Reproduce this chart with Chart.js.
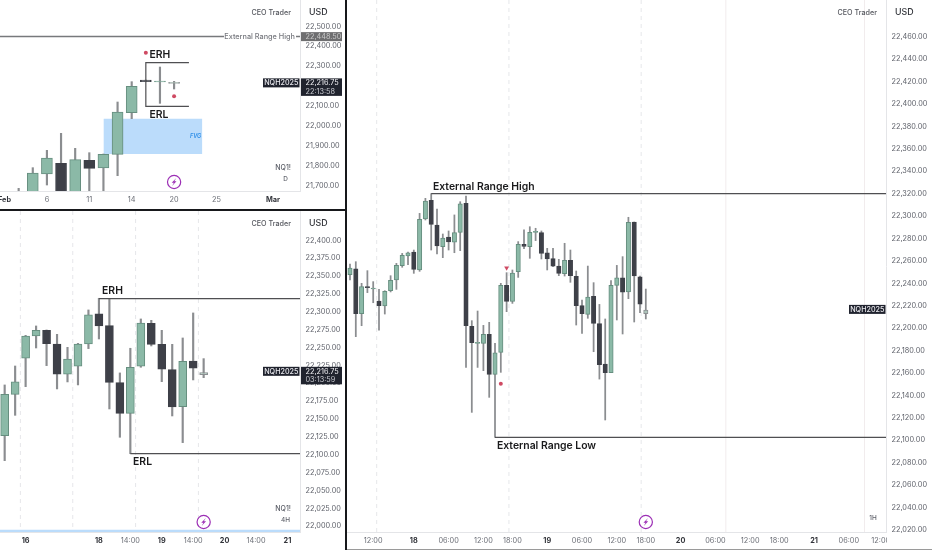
<!DOCTYPE html>
<html>
<head>
<meta charset="utf-8">
<title>NQH2025</title>
<script src="https://cdn.jsdelivr.net/npm/chart.js@4/dist/chart.umd.min.js"></script>
<style>
  html, body { margin: 0; padding: 0; background: #fff; overflow: hidden; }
  canvas { position: absolute; }
</style>
</head>
<body>
<canvas id="daily"></canvas>
<canvas id="h4"></canvas>
<canvas id="h1"></canvas>
<script>
// daily panel
const dailyOpen  = [21620, 21640, 21760.1, 21813.6, 21650, 21828.6, 21790.2, 21858.7, 22067.4, 22231.1, 22221.1, 22214.4];
const dailyHigh  = [21688.3, 21791.9, 21878.7, 21963.9, 21888.7, 21867, 21860.4, 22120.9, 22222.8, 22231.1, 22296.2, 22224.4];
const dailyLow   = [21560, 21600, 21705, 21600, 21600, 21600, 21600, 21751.8, 22037.4, 22222.8, 22114.2, 22186];
const dailyClose = [21660, 21765.2, 21840.3, 21650, 21832, 21788.5, 21858.7, 22070.8, 22199.4, 22222.8, 22224.4, 22216.75];
const dailyTickPos = [-1, 2, 5, 8, 11, 14, 18];
const dailyTickLabels = ['Feb', '6', '11', '14', '20', '25', 'Mar'];
const dailyPriceTicks = [22500, 22400, 22300, 22200, 22100, 22000, 21900, 21800, 21700];

// 4h panel
const h4Open  = [22126.8, 22184.6, 22235, 22266.2, 22274.1, 22255, 22212.6, 22223.8, 22255, 22297, 22280.7, 22200.9, 22158, 22223.8, 22283.9, 22254.5, 22219.1, 22167.4, 22231.2, 22212.1];
const h4High  = [22197.7, 22224.2, 22267.1, 22280.2, 22274.6, 22268.5, 22250.3, 22255.9, 22302.6, 22318.9, 22317.5, 22214.5, 22249, 22290, 22288.1, 22274.1, 22254.5, 22263.4, 22298.4, 22234.5];
const h4Low   = [22091.8, 22155.2, 22195.3, 22249.4, 22224.7, 22192.1, 22201.9, 22197.7, 22248.5, 22262, 22164.1, 22124.5, 22101.6, 22222.4, 22252.2, 22202.3, 22154.3, 22117, 22204.7, 22207.9];
const h4Close = [22184.6, 22201.9, 22266.2, 22274.1, 22255.5, 22212.6, 22234, 22255, 22295.6, 22280.2, 22201.4, 22158, 22222.4, 22284.4, 22254.5, 22219.6, 22166.9, 22230.8, 22221, 22214.9];
const h4TickPos = [2, 9, 12, 15, 18, 21, 24, 27];
const h4TickLabels = ['16', '18', '14:00', '19', '14:00', '20', '14:00', '21'];
const h4PriceTicks = [22400, 22375, 22350, 22325, 22300, 22275, 22250, 22225, 22200, 22175, 22150, 22125, 22100, 22075, 22050, 22025, 22000];

// 1h panel
const h1Open  = [22247.7, 22253, 22212.9, 22237, 22234.9, 22224.2, 22219.8, 22233.4, 22243, 22255.7, 22264.4, 22267.9, 22251.9, 22297.4, 22314, 22292, 22272.7, 22281.3, 22276.6, 22285.5, 22311.4, 22201.6, 22186.5, 22186.5, 22194.5, 22158.8, 22178.4, 22238.2, 22223.9, 22250.4, 22274.8, 22272.7, 22285.5, 22285.2, 22267.3, 22262, 22255.4, 22248.6, 22260.5, 22246.2, 22220.1, 22212.3, 22228.4, 22204, 22168, 22160.3, 22238.2, 22245, 22232.3, 22294.7, 22245.9, 22212.9];
const h1High  = [22257.2, 22259.3, 22240, 22251.3, 22241.5, 22234.6, 22233.4, 22246.8, 22257.8, 22266.7, 22267.9, 22269.7, 22302.4, 22315.8, 22320, 22306.3, 22284, 22286.7, 22301, 22312.8, 22317.9, 22206.7, 22215.3, 22202.5, 22205.2, 22186.5, 22240, 22249.5, 22251.9, 22277.2, 22287.6, 22290.5, 22289.1, 22286.7, 22271.2, 22271.2, 22261.4, 22275.7, 22269.7, 22251, 22225.1, 22255.4, 22240.6, 22221.2, 22208.2, 22242.4, 22256, 22263.8, 22298.9, 22294.7, 22246.5, 22234.9];
const h1Low   = [22243, 22192.4, 22202.2, 22231.7, 22222.7, 22198.3, 22212.6, 22232.3, 22234.6, 22254.3, 22256.6, 22248.9, 22250.7, 22296.5, 22269.7, 22266.2, 22262.9, 22269.7, 22267.3, 22269.1, 22165, 22124.9, 22165, 22162.1, 22138.3, 22102.6, 22160.6, 22214.7, 22222.1, 22245.3, 22270.9, 22262.3, 22278.1, 22261.7, 22251.9, 22254.9, 22246.8, 22246.5, 22240.9, 22202.8, 22195.4, 22208.8, 22179, 22154.6, 22118.1, 22160.3, 22207.3, 22194.8, 22226.3, 22205.5, 22213.8, 22208.2];
const h1Close = [22253.7, 22212.9, 22237, 22236.1, 22235.5, 22220.1, 22232.8, 22242.7, 22256, 22265, 22267.3, 22252.5, 22297.1, 22313.4, 22292.6, 22273.3, 22280.4, 22276.9, 22285.2, 22310.8, 22202.2, 22187, 22187, 22194.5, 22158.8, 22178.1, 22238.2, 22223.9, 22249.2, 22274.8, 22273, 22285.5, 22285.8, 22266.7, 22261.7, 22255.4, 22248.9, 22260.5, 22246.8, 22220.1, 22212.9, 22227.8, 22204.3, 22167.4, 22160.3, 22238.2, 22245, 22232, 22294.4, 22246.5, 22221.5, 22216.2];
const h1TickPos = [4, 11, 17, 23, 28, 34, 40, 46, 51, 57, 63, 69, 74, 80, 86, 91.5];
const h1TickLabels = ['12:00', '18', '06:00', '12:00', '18:00', '19', '06:00', '12:00', '18:00', '20', '06:00', '12:00', '18:00', '21', '06:00', '12:00'];
const h1PriceTicks = [22460, 22440, 22420, 22400, 22380, 22360, 22340, 22320, 22300, 22280, 22260, 22240, 22220, 22200, 22180, 22160, 22140, 22120, 22100, 22080, 22060, 22040, 22020];

const lastPrice = 22216.75;
const externalHighDaily = 22448.5;

const UP = '#8bb9a7', UP_EDGE = '#668e7f', DOWN = '#3e4048', WICK = '#8b8d90';
const LIVE = '#adc5ba', LIVE_EDGE = '#8b8f92';
const LINE = '#4f4f52', DARK = '#20232e', RED = '#cf4a63';
const FONT = 'Inter, "Liberation Sans", sans-serif';

const priceText = v => v.toLocaleString('en-US', { minimumFractionDigits: 2, maximumFractionDigits: 2 });

// the scales must not push the plot area in for half a label
const noPadding = s => { s.paddingLeft = s.paddingRight = s.paddingTop = s.paddingBottom = 0; };

// session lines, price tags and captions go on top of what the datasets draw
const overlay = {
  id: 'overlay',
  beforeDatasetsDraw(chart) {
    const p = chart.options.plugins.overlay, ctx = chart.ctx, area = chart.chartArea;
    const x = chart.scales.x;
    ctx.save();
    ctx.lineWidth = 1;
    (p.dashed || []).forEach(v => {
      ctx.strokeStyle = '#e6e7ea';
      ctx.setLineDash([4, 4]);
      ctx.beginPath(); ctx.moveTo(x.getPixelForValue(v), area.top); ctx.lineTo(x.getPixelForValue(v), area.bottom); ctx.stroke();
    });
    ctx.setLineDash([]);
    (p.solid || []).forEach(v => {
      ctx.strokeStyle = '#f1eced';
      ctx.beginPath(); ctx.moveTo(x.getPixelForValue(v), area.top); ctx.lineTo(x.getPixelForValue(v), area.bottom); ctx.stroke();
    });
    ctx.restore();
  },
  afterDraw(chart) {
    const p = chart.options.plugins.overlay, ctx = chart.ctx, area = chart.chartArea;
    const x = chart.scales.x, y = chart.scales.y;
    const W = chart.width, H = chart.height;
    ctx.save();
    // the price column does not run below the time axis
    ctx.fillStyle = '#fff';
    ctx.fillRect(area.right + 1, area.bottom + 1, W, H);

    ctx.textBaseline = 'middle';
    const label = (t, px, py, font, color, align) => {
      ctx.font = font; ctx.fillStyle = color; ctx.textAlign = align || 'left';
      ctx.fillText(t, px, py);
    };

    // line label with white gap, daily panel only
    if (p.rangeLabel) {
      const py = y.getPixelForValue(p.rangeLabel.price);
      ctx.fillStyle = '#fff';
      ctx.fillRect(area.right - 76, py - 5, 72, 10);
      label(p.rangeLabel.text, area.right - 5, py + 0.3, '500 7.3px ' + FONT, '#77797f', 'right');
      ctx.fillStyle = '#6e6e70';
      ctx.fillRect(area.right + 1, py - 4.5, 41, 9);
      label(priceText(p.rangeLabel.price), area.right + 5.5, py + 0.3, '7.3px ' + FONT, '#c9c9c9');
    }

    (p.notes || []).forEach(n => {
      label(n.text, x.getPixelForValue(n.x), y.getPixelForValue(n.y), n.font || ('600 10.4px ' + FONT), n.color || '#1a1a1c');
    });

    // current price tags
    const py = y.getPixelForValue(lastPrice);
    ctx.fillStyle = DARK;
    ctx.fillRect(area.right - 37, py - 4.5, 36.5, 9);
    label('NQH2025', area.right - 18.7, py + 0.3, '500 7.2px ' + FONT, '#e9e9ee', 'center');
    if (p.countdown) {
      ctx.fillStyle = DARK;
      ctx.fillRect(area.right + 1, py - 4.5, 41, 17.5);
      label(priceText(lastPrice), area.right + 5.5, py + 0.2, '7.3px ' + FONT, '#f2f2f5');
      label(p.countdown, area.right + 5.5, py + 8.6, '7.3px ' + FONT, '#c8cad0');
    }

    // captions
    label('CEO Trader', area.right - 9, p.topY, '500 7.2px ' + FONT, '#55575e', 'right');
    label('USD', area.right + 9, p.topY - 1, '500 8.8px ' + FONT, '#33353b');
    if (p.symbol) label(p.symbol, area.right - 9, p.symbolY, '500 7px ' + FONT, '#5c5f68', 'right');
    label(p.interval, p.intervalX == null ? area.right - 14.5 : p.intervalX, p.intervalY, '500 6.4px ' + FONT, '#5c5f68', 'center');

    // purple bolt badge over the last bar
    const bx = x.getPixelForValue(p.boltX), by = area.bottom - p.boltUp;
    ctx.strokeStyle = '#9c2fb5'; ctx.lineWidth = 1.2;
    ctx.beginPath(); ctx.arc(bx, by, 6.6, 0, Math.PI * 2); ctx.fillStyle = '#fff'; ctx.fill(); ctx.stroke();
    ctx.fillStyle = '#9c2fb5';
    ctx.beginPath();
    ctx.moveTo(bx + 2.2, by - 4); ctx.lineTo(bx - 2.4, by + 0.8); ctx.lineTo(bx - 0.2, by + 0.8);
    ctx.lineTo(bx - 2, by + 4); ctx.lineTo(bx + 2.4, by - 0.8); ctx.lineTo(bx + 0.2, by - 0.8);
    ctx.closePath(); ctx.fill();
    ctx.restore();
  }
};

function candles(open, high, low, close, body, wick) {
  const last = open.length - 1;
  const isUp = i => close[i] >= open[i];
  return [
    {
      type: 'bar', order: 3, grouped: false, barThickness: wick, borderWidth: 0,
      backgroundColor: WICK,
      data: high.map((h, i) => ({ x: i, y: [low[i], h] }))
    },
    {
      type: 'bar', order: 2, grouped: false, barThickness: body, borderWidth: 1, borderSkipped: false, minBarLength: 1,
      backgroundColor: open.map((o, i) => i === last ? LIVE : (isUp(i) ? UP : DOWN)),
      borderColor: open.map((o, i) => i === last ? LIVE_EDGE : (isUp(i) ? UP_EDGE : DOWN)),
      data: open.map((o, i) => ({ x: i, y: [o, close[i]] }))
    }
  ];
}

const rangeLine = (pts, color, width) => ({
  type: 'line', order: 1, data: pts, borderColor: color || LINE, borderWidth: width || 1.2,
  pointRadius: 0, fill: false, tension: 0
});

const marker = (pts, style, rotation, size) => ({
  type: 'line', order: 0, data: pts, showLine: false, pointStyle: style, rotation: rotation || 0,
  pointRadius: size || 2, pointBackgroundColor: RED, pointBorderWidth: 0
});

function panel(id, box, cfg) {
  const el = document.getElementById(id);
  el.style.left = box.left + 'px';
  el.style.top = box.top + 'px';
  el.style.width = box.width + 'px';
  el.style.height = box.height + 'px';
  el.width = box.width;
  el.height = box.height;
  return new Chart(el, {
    type: 'bar',
    data: { datasets: cfg.datasets },
    plugins: [overlay],
    options: {
      responsive: false,
      animation: false,
      events: [],
      devicePixelRatio: 1,
      layout: { autoPadding: false, padding: 0 },
      plugins: { legend: { display: false }, tooltip: { enabled: false }, overlay: cfg.overlay },
      scales: {
        x: {
          type: 'linear',
          offset: false,
          min: cfg.xMin,
          max: cfg.xMax,
          grid: { display: false, drawTicks: false, tickLength: 0, offset: false },
          border: { display: true, color: '#e4e5e8', width: 1 },
          afterBuildTicks: s => { s.ticks = cfg.tickPos.map(v => ({ value: v })); },
          afterFit: s => { s.height = box.axisH; noPadding(s); },
          ticks: {
            autoSkip: false, maxRotation: 0, padding: 4, color: i => cfg.boldLabels.includes(cfg.tickLabels[i.index]) ? '#33353b' : '#6a6d75',
            font: c => ({ family: FONT, size: 7.3, weight: cfg.boldLabels.includes(cfg.tickLabels[c.index]) ? '700' : '400' }),
            callback: (v, i) => cfg.tickLabels[i]
          }
        },
        y: {
          type: 'linear',
          position: 'right',
          min: cfg.yMin,
          max: cfg.yMax,
          grid: { display: false, drawTicks: false, tickLength: 0 },
          border: { display: true, color: '#e4e5e8', width: 1 },
          afterBuildTicks: s => { s.ticks = cfg.priceTicks.map(v => ({ value: v })); },
          afterFit: s => { s.width = box.axisW; noPadding(s); },
          ticks: {
            autoSkip: false, padding: 5.5, color: '#5c5f68',
            font: { family: FONT, size: 7.3 },
            callback: v => priceText(v)
          }
        }
      }
    }
  });
}

panel('daily', { left: 0, top: 0, width: 345, height: 209, axisH: 18, axisW: 45 }, {
  xMin: -1.32, xMax: 19.91, yMin: 21675, yMax: 22632,
  tickPos: dailyTickPos, tickLabels: dailyTickLabels, boldLabels: ['Feb', 'Mar'], priceTicks: dailyPriceTicks,
  datasets: [
    { type: 'line', order: 5, data: [{ x: 6, y: 22037.4 }, { x: 13, y: 22037.4 }], borderWidth: 0, pointRadius: 0,
      fill: { value: 21860.4 }, backgroundColor: '#bbdcfb' },
    ...candles(dailyOpen, dailyHigh, dailyLow, dailyClose, 11, 1.5),
    rangeLine([{ x: -1.32, y: externalHighDaily }, { x: 19.91, y: externalHighDaily }], '#77797c', 1.5),
    rangeLine([{ x: 12.05, y: 22318 }, { x: 9, y: 22318 }, { x: 9, y: 22099.2 }, { x: 12.05, y: 22099.2 }]),
    marker([{ x: 9, y: 22368 }, { x: 11, y: 22149.3 }], 'circle')
  ],
  overlay: {
    topY: 13, symbol: 'NQ1!', symbolY: 168, interval: 'D', intervalY: 179, boltX: 11, boltUp: 9, countdown: '22:13:58',
    rangeLabel: { text: 'External Range High', price: externalHighDaily },
    notes: [
      { text: 'ERH', x: 9.26, y: 22356.4 },
      { text: 'ERL', x: 9.26, y: 22055.9 },
      { text: 'FVG', x: 12.12, y: 21950.7, font: 'italic 600 5.6px ' + FONT, color: '#2f8fe8' }
    ]
  }
});

panel('h4', { left: 0, top: 211, width: 345, height: 339, axisH: 18, axisW: 45 }, {
  xMin: -0.446, xMax: 28.2, yMin: 21992, yMax: 22441,
  tickPos: h4TickPos, tickLabels: h4TickLabels, boldLabels: ['16', '18', '19', '20', '21'], priceTicks: h4PriceTicks,
  datasets: [
    { type: 'line', order: 5, data: [{ x: -0.446, y: 21995.2 }, { x: 28.2, y: 21995.2 }], borderWidth: 0, pointRadius: 0,
      fill: { value: 21980 }, backgroundColor: '#bbdcfb' },
    ...candles(h4Open, h4High, h4Low, h4Close, 8, 1.5),
    rangeLine([{ x: 9, y: 22318.4 }, { x: 28.2, y: 22318.4 }]),
    rangeLine([{ x: 12, y: 22101.6 }, { x: 28.2, y: 22101.6 }])
  ],
  overlay: {
    topY: 13, symbol: 'NQ1!', symbolY: 298, interval: '4H', intervalY: 309, boltX: 19, boltUp: 10, countdown: '03:13:59',
    dashed: [1.5, 6.5, 12.5, 18.5],
    notes: [
      { text: 'ERH', x: 9.3, y: 22329.1 },
      { text: 'ERL', x: 12.26, y: 22089.9 }
    ]
  }
});

panel('h1', { left: 347, top: 0, width: 585, height: 550, axisH: 18, axisW: 46 }, {
  xMin: -0.517, xMax: 92.41, yMin: 22018.2, yMax: 22492.7,
  tickPos: h1TickPos, tickLabels: h1TickLabels, boldLabels: ['18', '19', '20', '21'], priceTicks: h1PriceTicks,
  datasets: [
    ...candles(h1Open, h1High, h1Low, h1Close, 4.4, 1.1),
    rangeLine([{ x: 14, y: 22320 }, { x: 92.41, y: 22320 }]),
    rangeLine([{ x: 25, y: 22102.6 }, { x: 92.41, y: 22102.6 }]),
    marker([{ x: 26, y: 22150.5 }], 'circle'),
    marker([{ x: 27, y: 22253.7 }], 'triangle', 180, 2.8)
  ],
  overlay: {
    topY: 13, interval: '1H', intervalX: 526, intervalY: 518, boltX: 51, boltUp: 10,
    dashed: [4.6, 27.4, 50.2], solid: [64.8, 88.7],
    notes: [
      { text: 'External Range High', x: 14.3, y: 22326.4 },
      { text: 'External Range Low', x: 25.34, y: 22094.9 }
    ]
  }
});

// panel dividers
[['0', '209', '345', '2'], ['345', '0', '2', '550'], ['347', '549', '585', '1']].forEach((d, i) => {
  const s = document.createElement('div');
  s.style.cssText = 'position:absolute;left:' + d[0] + 'px;top:' + d[1] + 'px;width:' + d[2] + 'px;height:' + d[3] + 'px;background:' + (i === 2 ? '#9a9a9a' : '#17181b');
  document.body.appendChild(s);
});
</script>
</body>
</html>
